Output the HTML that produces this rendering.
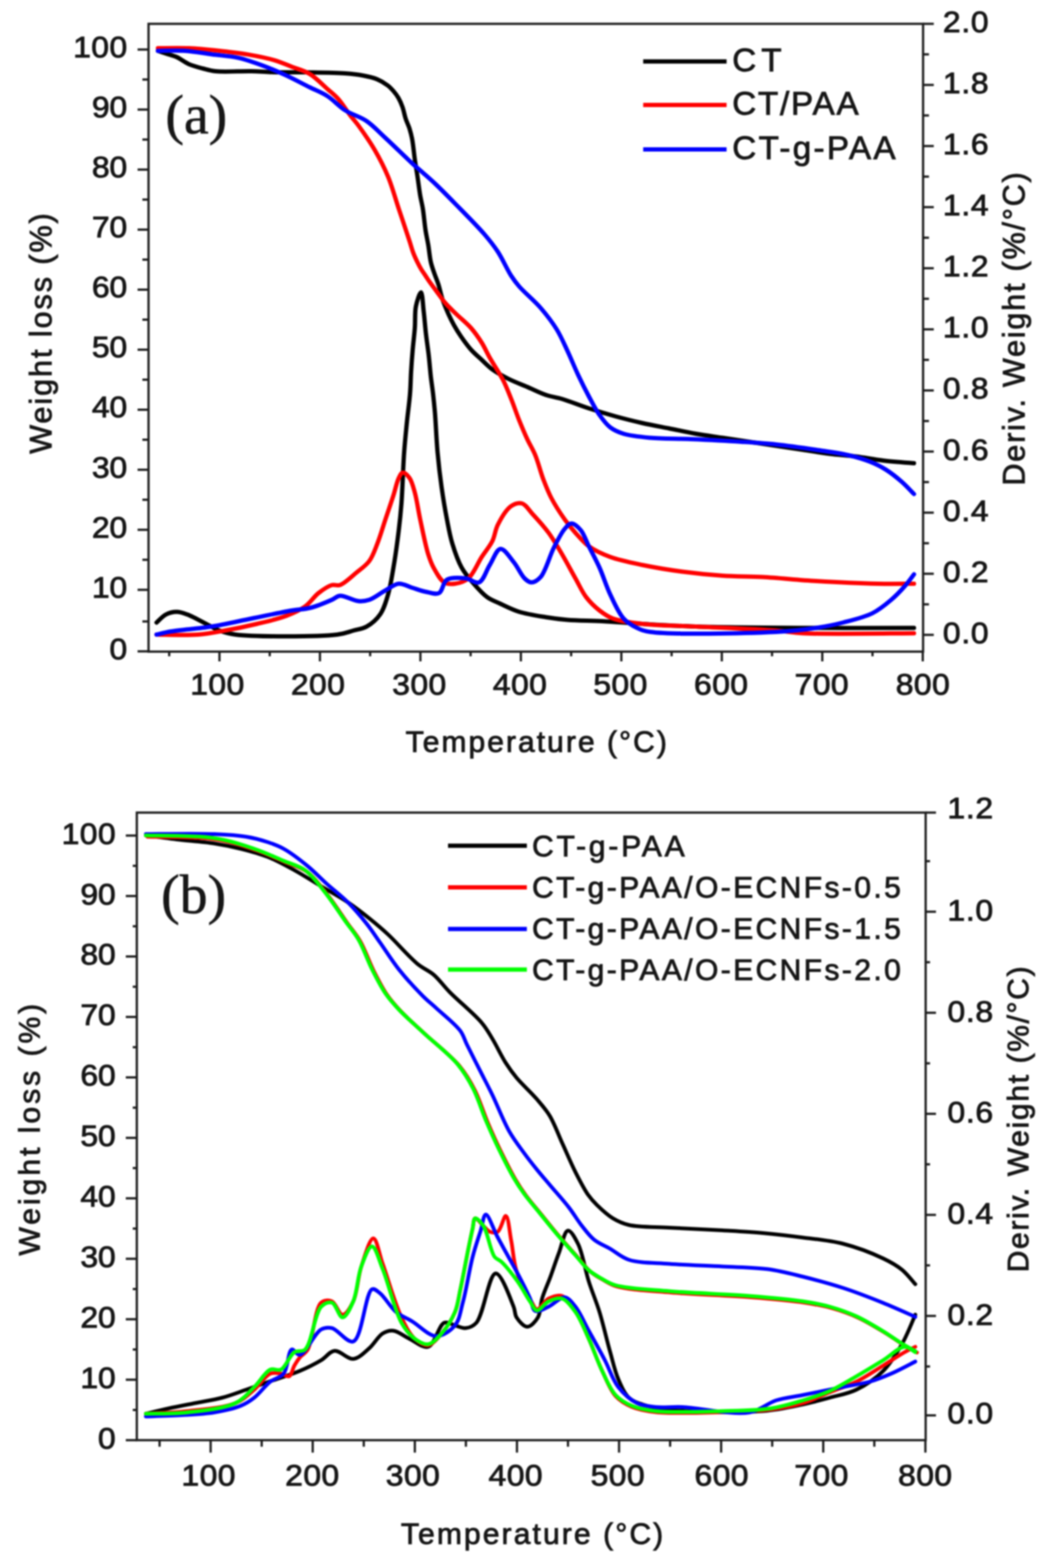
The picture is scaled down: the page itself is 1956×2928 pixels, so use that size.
<!DOCTYPE html>
<html><head><meta charset="utf-8"><title>TGA / DTG curves</title>
<style>
html,body{margin:0;padding:0;background:#fff;}
body{width:1956px;height:2928px;overflow:hidden;}
svg{display:block;filter:blur(1.5px);}
</style></head>
<body>
<svg width="1956" height="2928" viewBox="0 0 1956 2928">
<rect width="1956" height="2928" fill="#fff"/>
<g>
<path d="M295.0,94.9 C297.5,95.7 304.6,98.2 310.0,100.0 C316.2,102.1 323.3,103.5 330.0,106.5 C337.6,109.9 344.8,116.2 353.0,119.8 C361.3,123.4 370.9,125.8 379.5,128.0 C387.4,130.1 392.9,132.0 402.7,133.0 C419.2,134.8 451.1,132.5 470.0,133.0 C483.7,133.3 491.9,134.3 505.5,134.7 C523.8,135.2 547.7,134.7 570.0,135.0 C594.1,135.4 625.1,135.5 645.0,137.0 C658.3,138.0 667.7,139.0 678.0,141.0 C687.4,142.8 696.5,144.7 704.5,148.0 C711.8,151.0 719.0,155.5 724.4,159.6 C728.7,162.9 731.7,166.2 735.0,170.0 C738.4,173.9 741.6,178.1 744.3,182.8 C747.3,188.0 749.8,193.8 752.0,200.0 C754.4,206.8 755.7,215.1 758.0,222.0 C760.1,228.4 763.0,233.8 765.0,240.0 C767.0,246.4 768.5,252.2 770.0,260.0 C772.0,270.6 773.3,285.9 775.0,298.0 C776.6,309.1 778.4,319.1 780.0,330.0 C781.7,341.4 783.2,354.3 785.0,365.0 C786.6,374.1 788.5,380.7 790.0,390.0 C791.9,401.7 793.1,418.0 795.0,430.0 C796.5,439.9 798.4,447.5 800.0,457.0 C801.8,467.4 802.7,480.2 805.0,490.0 C806.9,498.2 809.6,505.0 812.0,512.0 C814.3,518.6 816.7,523.9 819.0,531.0 C821.8,539.6 823.8,550.6 827.0,560.0 C830.2,569.3 834.3,578.7 838.0,587.0 C841.3,594.2 844.3,600.3 848.0,607.0 C851.9,614.0 856.1,620.8 861.0,628.0 C866.6,636.1 873.3,645.5 880.0,653.0 C886.3,660.0 893.3,665.8 900.0,672.0 C906.6,678.1 912.3,684.4 920.0,690.0 C928.7,696.4 939.4,702.2 950.0,707.5 C961.1,713.1 973.3,717.5 985.0,722.5 C996.7,727.5 1008.6,733.7 1020.0,737.5 C1030.2,741.0 1038.8,741.7 1050.0,745.0 C1064.6,749.4 1083.3,757.1 1100.0,762.5 C1116.6,767.9 1133.3,772.9 1150.0,777.5 C1166.6,782.1 1183.3,786.2 1200.0,790.0 C1216.6,793.7 1233.3,796.7 1250.0,800.0 C1266.7,803.3 1283.3,807.1 1300.0,810.0 C1316.6,812.9 1333.3,815.0 1350.0,817.5 C1366.7,820.0 1383.3,822.5 1400.0,825.0 C1416.7,827.5 1433.3,830.0 1450.0,832.5 C1466.7,835.0 1483.3,837.5 1500.0,840.0 C1516.7,842.5 1533.3,845.4 1550.0,847.5 C1566.6,849.6 1583.4,850.4 1600.0,852.5 C1616.7,854.6 1632.7,858.0 1650.0,860.0 C1668.5,862.2 1697.9,864.2 1707.5,865.0" fill="none" stroke="#000" stroke-width="8.0" stroke-linejoin="round" stroke-linecap="round"/>
<path d="M292.5,1162.5 C295.4,1160.0 303.5,1150.8 310.0,1147.5 C316.1,1144.3 323.3,1142.5 330.0,1142.5 C336.7,1142.5 342.4,1144.7 350.0,1147.5 C361.2,1151.7 379.0,1162.0 390.0,1167.5 C397.8,1171.4 402.5,1174.7 410.0,1177.5 C418.8,1180.8 425.5,1183.2 440.0,1185.0 C475.9,1189.4 594.1,1189.4 630.0,1185.0 C644.5,1183.2 650.5,1180.1 660.0,1177.5 C668.7,1175.1 677.1,1174.4 685.0,1170.0 C693.9,1165.0 703.5,1156.9 710.0,1147.5 C717.2,1137.2 721.0,1123.6 725.0,1110.0 C729.5,1094.7 731.9,1078.1 735.0,1060.0 C738.7,1038.7 742.4,1011.4 745.0,990.0 C747.2,972.0 748.5,959.3 750.0,940.0 C752.0,913.4 753.0,872.4 755.0,845.0 C756.5,824.2 758.2,808.3 760.0,790.0 C761.8,771.7 764.7,752.0 766.0,735.0 C767.2,720.4 767.2,707.7 768.0,694.0 C768.8,680.3 769.8,666.7 771.0,653.0 C772.2,639.3 774.0,625.6 775.0,612.0 C776.0,598.6 774.6,583.7 777.0,572.0 C779.0,562.2 784.1,545.7 786.5,546.0 C789.2,546.3 790.1,569.6 791.6,582.0 C793.2,595.2 794.1,609.3 795.7,623.0 C797.3,636.7 799.4,650.4 801.0,664.0 C802.5,677.5 803.6,692.0 805.0,704.5 C806.3,715.4 807.8,724.5 809.0,735.0 C810.3,746.3 811.3,756.1 812.5,770.0 C814.2,790.3 815.3,820.9 817.5,845.0 C819.5,867.5 822.0,888.8 825.0,910.0 C827.9,930.4 831.4,951.5 835.0,970.0 C838.1,986.1 840.5,1000.2 845.0,1015.0 C849.6,1030.2 855.2,1046.9 862.5,1060.0 C868.9,1071.5 877.0,1080.7 885.0,1090.0 C892.8,1099.0 901.1,1108.6 910.0,1115.0 C917.9,1120.7 925.9,1123.3 935.0,1127.5 C945.6,1132.4 957.1,1138.5 970.0,1142.5 C985.0,1147.1 1004.2,1149.9 1020.0,1152.5 C1034.0,1154.8 1045.0,1156.3 1060.0,1157.5 C1079.0,1159.1 1102.6,1158.8 1125.0,1160.0 C1149.1,1161.3 1173.2,1163.4 1200.0,1165.0 C1230.9,1166.8 1260.9,1168.8 1300.0,1170.0 C1355.2,1171.7 1432.7,1172.1 1500.0,1172.5 C1568.5,1172.9 1672.9,1172.5 1707.5,1172.5" fill="none" stroke="#000" stroke-width="8.0" stroke-linejoin="round" stroke-linecap="round"/>
<path d="M295.0,90.0 C304.7,90.0 333.5,89.2 353.0,90.0 C372.8,90.9 393.7,93.2 412.7,95.2 C430.0,97.1 445.9,98.8 462.4,101.6 C479.1,104.5 497.4,108.0 512.2,112.3 C524.5,115.9 534.3,120.4 545.3,124.7 C556.4,129.0 567.9,131.6 578.5,138.0 C590.2,145.0 602.1,157.7 611.7,166.2 C619.2,172.9 625.1,177.1 631.6,184.4 C639.5,193.2 647.8,206.9 654.8,216.0 C660.3,223.2 664.3,227.2 670.0,235.0 C678.5,246.7 690.9,264.3 700.0,280.0 C709.3,296.0 717.7,312.3 725.0,330.0 C732.8,348.8 738.3,370.0 745.0,390.0 C751.7,410.0 760.1,434.9 765.0,450.0 C768.0,459.1 769.4,465.1 772.0,472.0 C774.4,478.4 777.3,484.5 780.0,490.0 C782.3,494.7 784.5,498.8 787.0,503.0 C789.5,507.1 792.4,511.1 795.0,515.0 C797.4,518.6 799.2,521.5 802.0,525.6 C806.0,531.3 811.9,539.2 817.0,546.0 C822.1,552.8 826.7,559.9 832.5,566.5 C838.6,573.6 845.6,579.8 853.0,587.0 C861.3,595.1 872.0,603.4 880.0,612.5 C887.6,621.2 894.1,630.6 900.0,640.0 C905.7,649.1 909.2,657.8 915.0,668.0 C922.2,680.7 933.1,696.4 940.0,710.0 C946.1,722.0 950.1,732.9 955.0,745.0 C960.2,757.8 964.8,772.2 970.0,785.0 C974.9,797.1 979.8,808.9 985.0,820.0 C989.9,830.5 995.4,838.8 1000.0,850.0 C1005.5,863.3 1009.7,881.0 1015.0,895.0 C1019.8,907.5 1023.8,918.2 1030.0,930.0 C1036.9,943.1 1046.8,958.4 1055.0,970.0 C1061.8,979.5 1067.7,986.9 1075.0,995.0 C1082.7,1003.6 1090.0,1012.8 1100.0,1020.0 C1111.2,1028.1 1125.0,1034.4 1140.0,1040.0 C1157.7,1046.5 1178.8,1050.6 1200.0,1055.0 C1223.5,1059.9 1249.9,1064.2 1275.0,1067.5 C1299.9,1070.8 1325.0,1073.3 1350.0,1075.0 C1375.0,1076.7 1398.2,1076.1 1425.0,1077.5 C1456.0,1079.2 1490.5,1083.0 1525.0,1085.0 C1562.0,1087.2 1606.7,1089.3 1640.0,1090.0 C1665.5,1090.6 1696.3,1090.0 1707.5,1090.0" fill="none" stroke="#ff0000" stroke-width="8.0" stroke-linejoin="round" stroke-linecap="round"/>
<path d="M292.5,1185.0 C305.4,1185.0 347.0,1186.7 370.0,1185.0 C388.5,1183.6 402.6,1180.6 420.0,1177.5 C439.1,1174.1 460.5,1169.7 480.0,1165.0 C498.8,1160.5 519.0,1156.1 535.0,1150.0 C548.3,1144.9 559.8,1139.8 570.0,1132.5 C579.7,1125.5 586.2,1114.4 595.0,1107.5 C603.0,1101.3 612.5,1094.6 620.0,1092.5 C625.4,1091.0 629.5,1094.3 635.0,1092.5 C643.7,1089.6 655.6,1077.7 665.0,1070.0 C673.9,1062.7 683.4,1056.5 690.0,1047.5 C696.8,1038.2 700.3,1026.9 705.0,1015.0 C710.4,1001.4 715.0,985.0 720.0,970.0 C725.0,955.0 730.6,938.8 735.0,925.0 C738.7,913.3 741.2,900.0 745.0,892.5 C747.3,887.9 749.4,882.9 752.5,882.5 C756.0,882.1 761.6,887.7 765.0,892.5 C769.7,899.0 772.0,909.3 775.0,920.0 C778.9,934.1 781.2,952.3 785.0,970.0 C789.4,990.3 794.8,1018.6 800.0,1035.0 C803.3,1045.4 805.4,1051.7 810.0,1060.0 C815.1,1069.3 822.2,1082.9 830.0,1087.5 C836.0,1091.0 843.1,1090.9 850.0,1090.0 C858.0,1089.0 867.5,1086.2 875.0,1080.0 C884.9,1071.7 892.0,1052.3 900.0,1040.0 C907.0,1029.2 914.9,1020.4 920.0,1010.0 C924.7,1000.3 924.9,990.0 930.0,980.0 C935.9,968.3 945.9,951.2 955.0,945.0 C961.3,940.7 968.8,938.3 975.0,940.0 C982.3,942.0 987.8,952.2 995.0,960.0 C1004.2,969.9 1015.9,982.6 1025.0,995.0 C1034.2,1007.6 1041.8,1021.2 1050.0,1035.0 C1058.5,1049.5 1067.1,1066.0 1075.0,1080.0 C1082.0,1092.4 1087.2,1104.8 1095.0,1115.0 C1102.3,1124.6 1111.2,1133.1 1120.0,1140.0 C1128.0,1146.2 1134.6,1151.1 1145.0,1155.0 C1159.4,1160.4 1178.9,1162.6 1200.0,1165.0 C1228.3,1168.3 1263.3,1168.2 1300.0,1170.0 C1344.9,1172.2 1413.4,1174.8 1450.0,1177.5 C1471.2,1179.1 1477.6,1181.4 1500.0,1182.5 C1545.5,1184.8 1672.9,1182.5 1707.5,1182.5" fill="none" stroke="#ff0000" stroke-width="8.0" stroke-linejoin="round" stroke-linecap="round"/>
<path d="M295.0,94.9 C303.6,94.9 329.4,93.8 346.3,94.9 C363.0,96.0 379.4,99.3 396.0,101.5 C412.6,103.7 429.6,104.5 445.8,108.1 C461.7,111.7 477.5,117.5 492.3,123.0 C506.2,128.1 518.3,133.4 532.0,139.7 C547.0,146.6 564.3,155.8 578.5,162.9 C590.5,168.9 601.0,172.6 611.7,179.5 C623.1,186.8 632.8,198.3 644.8,206.0 C657.1,213.9 672.2,217.5 684.6,225.9 C697.4,234.6 707.3,245.8 720.0,257.5 C735.3,271.6 757.0,293.1 770.0,305.0 C778.1,312.4 783.0,316.3 790.0,322.5 C797.9,329.5 806.1,336.5 815.0,345.0 C825.8,355.3 837.1,366.8 850.0,380.0 C866.4,396.7 890.6,420.7 905.0,437.5 C915.4,449.6 922.1,458.0 930.0,470.0 C938.9,483.5 947.3,503.2 955.0,515.0 C960.3,523.2 963.5,527.5 970.0,535.0 C979.8,546.3 998.1,561.2 1010.0,575.0 C1021.2,587.9 1031.5,601.3 1040.0,615.0 C1048.0,628.0 1053.5,641.2 1060.0,655.0 C1066.8,669.5 1073.2,685.5 1080.0,700.0 C1086.5,713.8 1093.2,727.2 1100.0,740.0 C1106.5,752.1 1112.8,764.9 1120.0,775.0 C1126.3,783.8 1132.3,792.1 1140.0,798.0 C1147.4,803.6 1155.0,806.9 1165.0,810.0 C1178.6,814.2 1196.6,815.8 1215.0,817.5 C1237.4,819.5 1263.5,818.9 1290.0,820.0 C1319.8,821.3 1356.3,823.1 1385.0,825.0 C1408.7,826.5 1427.6,827.6 1450.0,830.0 C1474.1,832.5 1501.4,836.5 1525.0,840.0 C1546.1,843.2 1567.1,845.8 1585.0,850.0 C1599.8,853.4 1612.8,857.2 1625.0,862.0 C1635.9,866.3 1645.3,870.9 1655.0,877.0 C1665.3,883.5 1676.0,892.1 1685.0,900.0 C1693.3,907.3 1703.7,918.8 1707.5,922.5" fill="none" stroke="#0000ff" stroke-width="8.0" stroke-linejoin="round" stroke-linecap="round"/>
<path d="M292.5,1185.0 C297.1,1184.0 308.5,1180.9 320.0,1179.0 C338.8,1175.8 370.1,1174.0 395.0,1170.0 C420.1,1166.0 445.0,1160.0 470.0,1155.0 C495.0,1150.0 524.7,1143.5 545.0,1140.0 C558.8,1137.6 568.1,1138.0 580.0,1135.0 C593.1,1131.7 610.0,1124.4 620.0,1120.0 C626.3,1117.3 628.8,1113.1 635.0,1112.5 C644.1,1111.7 659.9,1121.7 670.0,1122.5 C677.5,1123.1 682.9,1122.4 690.0,1120.0 C699.3,1116.9 710.4,1107.7 720.0,1102.5 C728.6,1097.8 736.5,1090.7 745.0,1090.0 C753.2,1089.3 761.7,1095.0 770.0,1097.5 C778.3,1100.0 786.6,1103.3 795.0,1105.0 C803.3,1106.6 813.4,1110.8 820.0,1107.5 C827.1,1104.0 827.3,1087.2 835.0,1082.5 C843.4,1077.3 859.4,1078.8 870.0,1080.0 C879.1,1081.0 887.9,1090.2 895.0,1087.5 C903.5,1084.3 908.2,1065.6 915.0,1055.0 C921.6,1044.7 927.5,1025.7 935.0,1025.0 C942.5,1024.3 952.5,1040.9 960.0,1050.0 C967.5,1059.2 973.4,1073.7 980.0,1080.0 C984.2,1084.0 988.0,1087.5 992.5,1087.5 C997.8,1087.6 1004.5,1083.5 1010.0,1077.5 C1019.5,1067.1 1026.7,1038.1 1035.0,1022.0 C1041.7,1008.9 1048.4,995.2 1055.0,987.5 C1059.2,982.6 1062.9,977.6 1067.5,977.5 C1072.8,977.4 1080.0,984.1 1085.0,990.0 C1091.3,997.3 1094.6,1009.3 1100.0,1020.0 C1106.2,1032.4 1113.6,1045.8 1120.0,1060.0 C1127.0,1075.6 1132.4,1094.0 1140.0,1110.0 C1147.4,1125.6 1155.3,1144.2 1165.0,1155.0 C1172.5,1163.3 1181.3,1168.3 1190.0,1172.5 C1198.0,1176.4 1202.2,1178.1 1215.0,1180.0 C1253.3,1185.6 1393.5,1182.8 1450.0,1180.0 C1482.0,1178.4 1502.6,1175.9 1525.0,1172.5 C1543.4,1169.7 1558.1,1166.9 1575.0,1162.5 C1593.0,1157.8 1614.3,1152.9 1630.0,1145.0 C1643.6,1138.2 1654.6,1128.8 1665.0,1120.0 C1674.4,1112.0 1682.6,1103.3 1690.0,1095.0 C1696.6,1087.5 1704.6,1076.2 1707.5,1072.5" fill="none" stroke="#0000ff" stroke-width="8.0" stroke-linejoin="round" stroke-linecap="round"/>
<path d="M272.5,1560.0 C282.1,1561.3 309.9,1565.1 330.0,1567.5 C352.2,1570.1 378.7,1571.7 400.0,1575.0 C418.1,1577.8 433.4,1580.9 450.0,1585.0 C466.8,1589.2 483.6,1593.5 500.0,1600.0 C517.0,1606.7 533.5,1615.9 550.0,1625.0 C566.8,1634.2 583.3,1645.0 600.0,1655.0 C616.7,1665.0 634.5,1674.6 650.0,1685.0 C664.3,1694.6 677.3,1704.8 690.0,1715.0 C702.2,1724.8 712.3,1733.2 725.0,1745.0 C741.5,1760.3 763.8,1786.7 780.0,1800.0 C791.0,1809.0 800.5,1811.9 810.0,1820.0 C820.6,1829.0 828.1,1840.3 840.0,1852.5 C856.4,1869.2 886.0,1893.2 900.0,1910.0 C909.3,1921.0 913.2,1928.8 920.0,1940.0 C928.1,1953.3 936.7,1972.1 945.0,1985.0 C951.7,1995.5 956.9,2002.8 965.0,2012.5 C975.3,2024.9 992.1,2039.8 1003.0,2052.6 C1012.2,2063.4 1019.6,2071.4 1027.0,2083.6 C1035.9,2098.4 1043.0,2118.5 1051.0,2136.0 C1059.0,2153.5 1066.7,2172.1 1075.0,2188.6 C1082.7,2203.8 1091.2,2220.6 1099.0,2231.6 C1104.5,2239.4 1108.5,2243.7 1115.0,2250.0 C1123.2,2258.0 1134.5,2268.6 1145.0,2275.0 C1154.6,2280.8 1162.4,2284.6 1175.0,2287.5 C1194.1,2292.0 1223.2,2290.9 1250.0,2292.5 C1280.9,2294.3 1319.1,2295.7 1350.0,2297.5 C1376.8,2299.1 1400.0,2300.3 1425.0,2302.5 C1450.0,2304.8 1475.0,2307.7 1500.0,2311.0 C1525.0,2314.3 1550.3,2316.1 1575.0,2322.5 C1600.3,2329.0 1630.1,2340.5 1650.0,2350.0 C1664.3,2356.8 1674.8,2362.7 1685.0,2371.0 C1694.7,2378.9 1705.8,2393.5 1710.0,2398.0" fill="none" stroke="#000" stroke-width="7.0" stroke-linejoin="round" stroke-linecap="round"/>
<path d="M272.5,2640.0 C279.6,2638.3 300.2,2633.2 315.0,2630.0 C331.0,2626.5 348.3,2623.3 365.0,2620.0 C381.7,2616.7 398.9,2614.3 415.0,2610.0 C430.5,2605.9 444.6,2600.3 460.0,2595.0 C476.2,2589.4 493.3,2583.3 510.0,2577.5 C526.7,2571.7 544.5,2566.6 560.0,2560.0 C574.3,2554.0 588.4,2546.9 600.0,2540.0 C609.5,2534.3 615.7,2523.5 625.0,2522.5 C635.4,2521.4 649.0,2538.5 660.0,2537.5 C670.7,2536.5 680.9,2525.3 690.0,2517.5 C699.2,2509.5 706.3,2495.2 715.0,2490.0 C721.5,2486.1 727.8,2484.2 735.0,2485.0 C744.2,2486.0 754.5,2495.1 765.0,2500.0 C776.1,2505.2 789.8,2518.0 800.0,2515.0 C812.1,2511.4 819.5,2474.1 830.0,2470.0 C836.5,2467.5 843.3,2473.3 850.0,2475.0 C856.7,2476.7 863.5,2480.7 870.0,2480.0 C876.8,2479.3 883.6,2477.0 890.0,2470.0 C903.4,2455.4 913.3,2378.8 926.0,2378.0 C936.7,2377.3 953.4,2424.8 959.5,2440.0 C962.8,2448.3 961.3,2454.0 965.0,2460.0 C969.2,2466.7 978.3,2477.5 985.0,2477.5 C991.7,2477.5 1000.4,2467.8 1005.0,2460.0 C1010.5,2450.8 1009.3,2436.1 1013.0,2424.0 C1016.9,2411.1 1023.0,2398.5 1028.0,2385.0 C1033.3,2370.6 1038.4,2354.7 1044.0,2340.0 C1049.4,2325.7 1054.3,2298.9 1061.0,2298.0 C1066.6,2297.3 1074.4,2311.9 1080.0,2323.0 C1088.5,2339.9 1093.0,2371.0 1100.0,2393.0 C1106.4,2413.1 1113.7,2429.6 1120.0,2450.0 C1127.1,2473.2 1133.6,2502.6 1140.0,2525.0 C1145.2,2543.4 1148.6,2560.1 1155.0,2575.0 C1160.6,2588.1 1166.5,2602.0 1175.0,2610.0 C1182.1,2616.7 1190.0,2619.1 1200.0,2622.5 C1213.6,2627.2 1228.1,2630.2 1250.0,2632.5 C1290.5,2636.8 1379.0,2638.5 1425.0,2635.0 C1455.3,2632.7 1477.6,2627.2 1500.0,2622.5 C1518.4,2618.7 1533.4,2614.6 1550.0,2610.0 C1566.7,2605.4 1583.9,2602.8 1600.0,2595.0 C1617.4,2586.6 1635.8,2574.2 1650.0,2560.0 C1664.2,2545.8 1675.0,2527.5 1685.0,2510.0 C1695.0,2492.5 1705.8,2464.2 1710.0,2455.0" fill="none" stroke="#000" stroke-width="7.0" stroke-linejoin="round" stroke-linecap="round"/>
<path d="M275.5,1562.5 C296.7,1563.3 366.4,1562.0 403.0,1567.5 C431.6,1571.8 455.2,1579.8 478.0,1587.5 C498.0,1594.2 516.2,1602.9 533.0,1610.0 C547.4,1616.1 560.6,1618.5 573.0,1627.5 C587.6,1638.1 600.5,1656.7 613.0,1672.5 C625.5,1688.4 637.3,1707.3 648.0,1722.5 C657.0,1735.2 665.3,1744.1 673.0,1757.5 C682.2,1773.4 689.3,1795.3 698.0,1812.5 C706.0,1828.4 714.0,1844.4 723.0,1857.5 C730.8,1868.9 738.1,1876.9 748.0,1887.5 C760.5,1900.8 776.6,1914.7 793.0,1930.0 C812.6,1948.3 841.5,1970.3 858.0,1990.0 C870.8,2005.4 878.5,2018.8 887.0,2035.5 C896.3,2053.7 902.8,2076.2 911.0,2095.5 C918.8,2113.8 926.4,2130.9 935.0,2148.5 C943.8,2166.5 954.2,2187.5 963.0,2202.5 C969.6,2213.9 974.7,2221.5 982.0,2231.5 C990.4,2243.1 1001.2,2255.4 1011.0,2267.5 C1021.1,2280.0 1031.2,2292.7 1042.0,2305.5 C1053.4,2319.0 1067.1,2334.2 1078.0,2346.5 C1087.1,2356.7 1094.3,2367.0 1103.0,2374.5 C1110.4,2380.9 1117.9,2384.9 1126.0,2389.5 C1134.5,2394.3 1140.8,2399.0 1153.0,2402.5 C1175.4,2408.9 1216.3,2410.4 1253.0,2413.5 C1297.9,2417.3 1358.1,2418.9 1403.0,2422.5 C1439.7,2425.4 1475.5,2428.4 1503.0,2432.5 C1522.6,2435.4 1536.5,2437.9 1553.0,2442.5 C1569.8,2447.2 1586.6,2453.0 1603.0,2460.5 C1620.0,2468.3 1638.0,2479.4 1653.0,2488.5 C1665.9,2496.3 1677.2,2504.9 1688.0,2511.5 C1696.9,2516.9 1708.8,2523.2 1713.0,2525.5" fill="none" stroke="#ff0000" stroke-width="7.0" stroke-linejoin="round" stroke-linecap="round"/>
<path d="M272.5,2640.0 C285.4,2639.2 323.3,2638.1 350.0,2635.0 C379.0,2631.7 417.7,2629.2 440.0,2620.0 C455.3,2613.7 464.1,2604.2 475.0,2595.0 C485.8,2585.9 495.2,2569.1 505.0,2565.0 C511.7,2562.2 518.9,2564.0 525.0,2565.0 C530.4,2565.9 536.0,2571.7 540.0,2570.0 C544.8,2568.0 546.5,2556.1 550.0,2550.0 C553.2,2544.5 556.1,2539.8 560.0,2535.0 C564.3,2529.8 570.3,2528.0 575.0,2520.0 C584.7,2503.5 587.7,2443.0 600.0,2432.5 C605.8,2427.5 613.9,2427.5 620.0,2430.0 C627.6,2433.1 633.3,2455.0 640.0,2455.0 C646.7,2455.0 654.6,2441.1 660.0,2430.0 C667.7,2414.0 668.4,2385.2 675.0,2365.0 C681.1,2346.3 690.7,2312.3 697.5,2312.5 C703.9,2312.7 708.3,2341.2 715.0,2360.0 C724.8,2387.2 737.8,2434.7 750.0,2460.0 C758.1,2476.9 765.2,2491.3 775.0,2500.0 C782.5,2506.7 792.0,2513.1 800.0,2512.0 C808.8,2510.8 817.3,2499.1 825.0,2490.0 C834.2,2479.2 844.1,2464.0 850.0,2450.0 C855.6,2436.6 856.5,2424.1 860.0,2408.0 C864.7,2386.4 870.7,2353.0 875.0,2332.0 C878.0,2317.1 880.6,2304.5 883.0,2294.0 C884.7,2286.6 884.4,2276.0 887.6,2275.0 C890.9,2274.0 898.2,2284.6 903.0,2289.0 C907.3,2292.9 910.4,2298.2 915.0,2300.0 C919.4,2301.7 925.7,2302.7 930.0,2300.0 C936.4,2296.1 941.0,2270.1 945.0,2270.6 C949.8,2271.2 951.9,2300.6 955.0,2316.5 C958.3,2333.6 959.4,2353.7 964.0,2370.0 C968.1,2384.5 974.4,2399.0 980.0,2410.0 C984.2,2418.3 988.9,2424.8 993.0,2431.0 C996.5,2436.2 998.7,2444.5 1003.0,2445.0 C1008.7,2445.6 1016.8,2429.1 1025.0,2425.0 C1032.6,2421.2 1042.3,2417.4 1050.0,2420.0 C1059.3,2423.1 1067.4,2436.6 1075.0,2448.0 C1084.4,2462.1 1091.9,2481.9 1100.0,2500.0 C1108.6,2519.2 1116.2,2541.4 1125.0,2560.0 C1133.0,2576.8 1139.6,2595.5 1150.0,2607.0 C1158.6,2616.5 1168.5,2622.1 1180.0,2627.0 C1193.0,2632.6 1206.1,2634.9 1225.0,2637.0 C1256.1,2640.4 1311.8,2638.1 1350.0,2637.0 C1382.5,2636.1 1413.1,2635.4 1440.0,2632.0 C1462.1,2629.2 1481.2,2625.6 1500.0,2620.0 C1517.7,2614.7 1533.3,2606.7 1550.0,2600.0 C1566.7,2593.3 1583.7,2588.1 1600.0,2580.0 C1617.0,2571.6 1634.3,2559.6 1650.0,2550.0 C1664.1,2541.4 1678.8,2531.3 1690.0,2525.0 C1697.7,2520.7 1706.7,2516.7 1710.0,2515.0" fill="none" stroke="#ff0000" stroke-width="7.0" stroke-linejoin="round" stroke-linecap="round"/>
<path d="M272.5,1557.5 C293.8,1557.5 365.4,1556.1 400.0,1557.5 C423.7,1558.5 442.1,1559.5 460.0,1562.5 C474.8,1564.9 487.8,1568.4 500.0,1572.5 C510.9,1576.1 519.4,1579.0 530.0,1585.0 C543.9,1592.8 561.3,1606.2 575.0,1617.5 C587.7,1628.0 597.9,1639.1 610.0,1650.0 C622.8,1661.5 637.5,1672.5 650.0,1685.0 C662.5,1697.5 674.6,1711.9 685.0,1725.0 C694.4,1736.8 701.0,1747.3 710.0,1760.0 C720.7,1775.2 732.1,1793.7 745.0,1810.0 C758.6,1827.1 776.9,1846.9 790.0,1860.0 C799.3,1869.3 805.5,1873.8 815.0,1882.5 C827.9,1894.4 850.4,1911.9 860.0,1925.0 C866.4,1933.8 867.3,1940.4 872.0,1950.0 C878.6,1963.4 888.0,1981.8 896.0,1997.7 C904.0,2013.5 911.7,2027.8 920.0,2045.0 C929.8,2065.3 940.1,2092.8 951.0,2112.0 C959.9,2127.8 969.8,2140.4 979.0,2153.0 C987.1,2164.2 994.9,2174.0 1003.0,2184.0 C1010.9,2193.8 1018.2,2202.1 1027.0,2212.5 C1037.8,2225.3 1052.5,2241.4 1063.0,2255.0 C1072.1,2266.8 1078.8,2278.6 1087.0,2289.0 C1094.5,2298.5 1101.1,2307.8 1110.0,2315.0 C1118.8,2322.1 1129.6,2326.0 1140.0,2332.0 C1151.2,2338.5 1160.5,2347.8 1175.0,2352.5 C1194.8,2358.9 1223.2,2358.0 1250.0,2360.0 C1280.9,2362.3 1318.0,2363.3 1350.0,2365.0 C1379.5,2366.6 1408.7,2366.4 1435.0,2370.0 C1458.2,2373.2 1477.6,2378.5 1500.0,2384.0 C1524.2,2390.0 1550.2,2396.9 1575.0,2405.0 C1600.2,2413.2 1626.5,2423.5 1650.0,2433.0 C1671.2,2441.6 1700.0,2454.7 1710.0,2459.0" fill="none" stroke="#0000ff" stroke-width="7.0" stroke-linejoin="round" stroke-linecap="round"/>
<path d="M272.5,2645.0 C283.8,2644.6 318.2,2643.8 340.0,2642.5 C360.6,2641.3 381.0,2640.6 400.0,2637.5 C417.5,2634.6 436.5,2630.6 450.0,2625.0 C460.1,2620.8 466.7,2616.5 475.0,2610.0 C485.0,2602.2 495.0,2587.8 505.0,2580.0 C513.3,2573.5 523.6,2573.0 530.0,2565.0 C538.2,2554.8 538.1,2522.4 545.0,2520.0 C549.3,2518.5 554.2,2530.8 560.0,2530.0 C570.7,2528.5 587.7,2489.2 600.0,2482.5 C607.0,2478.7 612.5,2478.4 620.0,2480.0 C631.4,2482.5 648.9,2508.9 660.0,2505.0 C676.5,2499.3 682.8,2412.4 695.0,2407.5 C699.9,2405.5 704.6,2410.8 710.0,2415.0 C718.9,2422.0 729.2,2441.0 740.0,2450.0 C749.4,2457.8 759.0,2460.9 770.0,2467.5 C783.5,2475.6 800.9,2494.8 815.0,2495.0 C827.3,2495.2 841.7,2485.0 850.0,2475.0 C858.9,2464.2 860.2,2448.2 865.0,2431.0 C871.5,2407.6 876.7,2371.1 883.0,2347.0 C887.8,2328.4 893.5,2312.3 898.0,2298.0 C901.5,2286.8 903.1,2268.4 907.5,2268.0 C912.8,2267.5 922.2,2296.3 929.0,2309.0 C934.9,2320.1 940.0,2329.1 946.0,2340.0 C952.6,2352.0 960.0,2364.7 967.0,2378.0 C974.6,2392.5 984.1,2411.1 990.0,2424.0 C994.2,2433.2 994.2,2445.3 1000.0,2448.0 C1005.8,2450.7 1016.5,2443.8 1025.0,2440.0 C1034.8,2435.6 1046.3,2421.7 1055.0,2422.5 C1062.6,2423.2 1068.6,2432.1 1075.0,2440.0 C1083.9,2451.0 1091.3,2469.2 1100.0,2485.0 C1109.6,2502.4 1120.6,2522.0 1130.0,2540.0 C1138.9,2557.0 1144.3,2576.3 1155.0,2590.0 C1164.7,2602.4 1177.5,2613.8 1190.0,2620.0 C1201.0,2625.5 1212.2,2626.1 1225.0,2627.5 C1240.1,2629.1 1254.6,2626.7 1275.0,2627.5 C1307.3,2628.8 1368.2,2643.0 1400.0,2637.5 C1421.0,2633.9 1433.0,2620.4 1450.0,2615.0 C1466.4,2609.8 1481.6,2608.7 1500.0,2605.0 C1522.5,2600.5 1552.5,2594.5 1575.0,2590.0 C1593.4,2586.3 1609.4,2584.4 1625.0,2580.0 C1639.3,2575.9 1651.4,2570.9 1665.0,2565.0 C1679.7,2558.6 1702.5,2546.2 1710.0,2542.5" fill="none" stroke="#0000ff" stroke-width="7.0" stroke-linejoin="round" stroke-linecap="round"/>
<path d="M272.5,1560.0 C293.7,1560.8 363.4,1559.5 400.0,1565.0 C428.6,1569.3 452.2,1577.3 475.0,1585.0 C495.0,1591.7 513.2,1600.4 530.0,1607.5 C544.4,1613.6 557.6,1616.0 570.0,1625.0 C584.6,1635.6 597.5,1654.2 610.0,1670.0 C622.5,1685.9 634.3,1704.8 645.0,1720.0 C654.0,1732.7 662.3,1741.6 670.0,1755.0 C679.2,1770.9 686.3,1792.8 695.0,1810.0 C703.0,1825.9 711.0,1841.9 720.0,1855.0 C727.8,1866.4 735.1,1874.4 745.0,1885.0 C757.5,1898.3 773.6,1912.2 790.0,1927.5 C809.6,1945.8 838.5,1967.8 855.0,1987.5 C867.8,2002.9 875.5,2016.3 884.0,2033.0 C893.3,2051.2 899.8,2073.7 908.0,2093.0 C915.8,2111.3 923.4,2128.4 932.0,2146.0 C940.8,2164.0 951.2,2185.0 960.0,2200.0 C966.6,2211.4 971.7,2219.0 979.0,2229.0 C987.4,2240.6 998.2,2252.9 1008.0,2265.0 C1018.1,2277.5 1028.2,2290.2 1039.0,2303.0 C1050.4,2316.5 1064.1,2331.7 1075.0,2344.0 C1084.1,2354.2 1091.3,2364.5 1100.0,2372.0 C1107.4,2378.4 1114.9,2382.4 1123.0,2387.0 C1131.5,2391.8 1137.8,2396.5 1150.0,2400.0 C1172.4,2406.4 1213.3,2407.9 1250.0,2411.0 C1294.9,2414.8 1355.1,2416.4 1400.0,2420.0 C1436.7,2422.9 1472.5,2425.9 1500.0,2430.0 C1519.6,2432.9 1533.5,2435.4 1550.0,2440.0 C1566.8,2444.7 1583.6,2450.5 1600.0,2458.0 C1617.0,2465.8 1635.0,2476.9 1650.0,2486.0 C1662.9,2493.8 1674.2,2502.4 1685.0,2509.0 C1693.9,2514.4 1705.8,2520.7 1710.0,2523.0" fill="none" stroke="#00ff00" stroke-width="7.0" stroke-linejoin="round" stroke-linecap="round"/>
<path d="M272.5,2640.0 C285.4,2639.6 323.3,2640.5 350.0,2637.5 C379.0,2634.2 417.9,2630.7 440.0,2620.0 C455.7,2612.4 464.1,2600.5 475.0,2590.0 C485.7,2579.7 495.1,2561.9 505.0,2557.5 C511.7,2554.6 518.7,2560.6 525.0,2557.5 C534.0,2553.0 541.0,2530.9 550.0,2525.0 C556.4,2520.8 563.9,2525.4 570.0,2520.0 C582.4,2508.9 587.8,2452.2 600.0,2440.0 C606.1,2433.9 613.9,2430.7 620.0,2432.5 C627.6,2434.8 633.4,2460.1 640.0,2460.0 C646.8,2459.9 654.6,2442.5 660.0,2430.0 C667.3,2413.0 668.1,2383.3 675.0,2365.0 C680.5,2350.4 688.5,2327.3 695.0,2327.5 C701.8,2327.7 707.9,2352.6 715.0,2370.0 C725.7,2396.1 737.1,2447.2 750.0,2470.0 C757.9,2483.9 765.7,2493.3 775.0,2500.0 C782.7,2505.6 792.0,2511.2 800.0,2510.0 C808.7,2508.7 817.3,2498.6 825.0,2490.0 C834.3,2479.5 844.1,2464.0 850.0,2450.0 C855.6,2436.6 856.5,2424.1 860.0,2408.0 C864.7,2386.4 870.7,2353.0 875.0,2332.0 C878.0,2317.1 880.6,2304.5 883.0,2294.0 C884.7,2286.6 884.4,2276.0 887.6,2275.0 C890.9,2274.0 898.3,2281.9 903.0,2289.0 C911.2,2301.2 916.1,2336.6 924.0,2347.0 C927.9,2352.2 931.8,2351.6 936.5,2356.0 C944.9,2363.8 957.9,2380.4 967.0,2393.0 C975.7,2405.1 983.2,2420.2 990.0,2430.0 C994.8,2436.9 997.7,2446.3 1003.0,2447.0 C1009.1,2447.8 1017.0,2433.7 1025.0,2430.0 C1032.7,2426.5 1042.2,2422.7 1050.0,2425.0 C1059.1,2427.8 1067.4,2439.5 1075.0,2450.0 C1084.5,2463.2 1092.0,2482.4 1100.0,2500.0 C1108.7,2518.9 1116.1,2541.7 1125.0,2560.0 C1132.9,2576.3 1139.7,2593.8 1150.0,2605.0 C1158.6,2614.3 1168.5,2620.1 1180.0,2625.0 C1193.0,2630.6 1206.1,2632.9 1225.0,2635.0 C1256.1,2638.4 1311.8,2636.1 1350.0,2635.0 C1382.5,2634.1 1413.2,2634.1 1440.0,2630.0 C1462.2,2626.6 1481.0,2620.7 1500.0,2615.0 C1517.6,2609.7 1533.6,2604.8 1550.0,2597.5 C1567.0,2589.9 1583.4,2579.5 1600.0,2570.0 C1616.8,2560.4 1634.3,2549.6 1650.0,2540.0 C1664.1,2531.4 1678.8,2515.5 1690.0,2515.0 C1697.7,2514.6 1706.7,2523.3 1710.0,2525.0" fill="none" stroke="#00ff00" stroke-width="7.0" stroke-linejoin="round" stroke-linecap="round"/>
<rect x="277.5" y="44.5" width="1447.0" height="1172.3" fill="none" stroke="#1c1c1c" stroke-width="4.2"/>
<line x1="257.0" y1="1216.3" x2="277.5" y2="1216.3" stroke="#1c1c1c" stroke-width="4.2" stroke-linecap="butt"/>
<line x1="266.0" y1="1160.5" x2="277.5" y2="1160.5" stroke="#1c1c1c" stroke-width="4.2" stroke-linecap="butt"/>
<line x1="257.0" y1="1101.4" x2="277.5" y2="1101.4" stroke="#1c1c1c" stroke-width="4.2" stroke-linecap="butt"/>
<line x1="266.0" y1="1045.3" x2="277.5" y2="1045.3" stroke="#1c1c1c" stroke-width="4.2" stroke-linecap="butt"/>
<line x1="257.0" y1="989.3" x2="277.5" y2="989.3" stroke="#1c1c1c" stroke-width="4.2" stroke-linecap="butt"/>
<line x1="266.0" y1="933.2" x2="277.5" y2="933.2" stroke="#1c1c1c" stroke-width="4.2" stroke-linecap="butt"/>
<line x1="257.0" y1="877.2" x2="277.5" y2="877.2" stroke="#1c1c1c" stroke-width="4.2" stroke-linecap="butt"/>
<line x1="266.0" y1="821.1" x2="277.5" y2="821.1" stroke="#1c1c1c" stroke-width="4.2" stroke-linecap="butt"/>
<line x1="257.0" y1="765.1" x2="277.5" y2="765.1" stroke="#1c1c1c" stroke-width="4.2" stroke-linecap="butt"/>
<line x1="266.0" y1="709.0" x2="277.5" y2="709.0" stroke="#1c1c1c" stroke-width="4.2" stroke-linecap="butt"/>
<line x1="257.0" y1="653.0" x2="277.5" y2="653.0" stroke="#1c1c1c" stroke-width="4.2" stroke-linecap="butt"/>
<line x1="266.0" y1="596.9" x2="277.5" y2="596.9" stroke="#1c1c1c" stroke-width="4.2" stroke-linecap="butt"/>
<line x1="257.0" y1="540.9" x2="277.5" y2="540.9" stroke="#1c1c1c" stroke-width="4.2" stroke-linecap="butt"/>
<line x1="266.0" y1="484.8" x2="277.5" y2="484.8" stroke="#1c1c1c" stroke-width="4.2" stroke-linecap="butt"/>
<line x1="257.0" y1="428.8" x2="277.5" y2="428.8" stroke="#1c1c1c" stroke-width="4.2" stroke-linecap="butt"/>
<line x1="266.0" y1="372.7" x2="277.5" y2="372.7" stroke="#1c1c1c" stroke-width="4.2" stroke-linecap="butt"/>
<line x1="257.0" y1="316.7" x2="277.5" y2="316.7" stroke="#1c1c1c" stroke-width="4.2" stroke-linecap="butt"/>
<line x1="266.0" y1="260.6" x2="277.5" y2="260.6" stroke="#1c1c1c" stroke-width="4.2" stroke-linecap="butt"/>
<line x1="257.0" y1="204.6" x2="277.5" y2="204.6" stroke="#1c1c1c" stroke-width="4.2" stroke-linecap="butt"/>
<line x1="266.0" y1="148.5" x2="277.5" y2="148.5" stroke="#1c1c1c" stroke-width="4.2" stroke-linecap="butt"/>
<line x1="257.0" y1="92.5" x2="277.5" y2="92.5" stroke="#1c1c1c" stroke-width="4.2" stroke-linecap="butt"/>
<line x1="1724.5" y1="1185.5" x2="1744.5" y2="1185.5" stroke="#1c1c1c" stroke-width="4.2" stroke-linecap="butt"/>
<line x1="1724.5" y1="1128.5" x2="1735.5" y2="1128.5" stroke="#1c1c1c" stroke-width="4.2" stroke-linecap="butt"/>
<line x1="1724.5" y1="1071.4" x2="1744.5" y2="1071.4" stroke="#1c1c1c" stroke-width="4.2" stroke-linecap="butt"/>
<line x1="1724.5" y1="1014.4" x2="1735.5" y2="1014.4" stroke="#1c1c1c" stroke-width="4.2" stroke-linecap="butt"/>
<line x1="1724.5" y1="957.3" x2="1744.5" y2="957.3" stroke="#1c1c1c" stroke-width="4.2" stroke-linecap="butt"/>
<line x1="1724.5" y1="900.2" x2="1735.5" y2="900.2" stroke="#1c1c1c" stroke-width="4.2" stroke-linecap="butt"/>
<line x1="1724.5" y1="843.2" x2="1744.5" y2="843.2" stroke="#1c1c1c" stroke-width="4.2" stroke-linecap="butt"/>
<line x1="1724.5" y1="786.2" x2="1735.5" y2="786.2" stroke="#1c1c1c" stroke-width="4.2" stroke-linecap="butt"/>
<line x1="1724.5" y1="729.1" x2="1744.5" y2="729.1" stroke="#1c1c1c" stroke-width="4.2" stroke-linecap="butt"/>
<line x1="1724.5" y1="672.0" x2="1735.5" y2="672.0" stroke="#1c1c1c" stroke-width="4.2" stroke-linecap="butt"/>
<line x1="1724.5" y1="615.0" x2="1744.5" y2="615.0" stroke="#1c1c1c" stroke-width="4.2" stroke-linecap="butt"/>
<line x1="1724.5" y1="557.9" x2="1735.5" y2="557.9" stroke="#1c1c1c" stroke-width="4.2" stroke-linecap="butt"/>
<line x1="1724.5" y1="500.9" x2="1744.5" y2="500.9" stroke="#1c1c1c" stroke-width="4.2" stroke-linecap="butt"/>
<line x1="1724.5" y1="443.9" x2="1735.5" y2="443.9" stroke="#1c1c1c" stroke-width="4.2" stroke-linecap="butt"/>
<line x1="1724.5" y1="386.8" x2="1744.5" y2="386.8" stroke="#1c1c1c" stroke-width="4.2" stroke-linecap="butt"/>
<line x1="1724.5" y1="329.8" x2="1735.5" y2="329.8" stroke="#1c1c1c" stroke-width="4.2" stroke-linecap="butt"/>
<line x1="1724.5" y1="272.7" x2="1744.5" y2="272.7" stroke="#1c1c1c" stroke-width="4.2" stroke-linecap="butt"/>
<line x1="1724.5" y1="215.6" x2="1735.5" y2="215.6" stroke="#1c1c1c" stroke-width="4.2" stroke-linecap="butt"/>
<line x1="1724.5" y1="158.6" x2="1744.5" y2="158.6" stroke="#1c1c1c" stroke-width="4.2" stroke-linecap="butt"/>
<line x1="1724.5" y1="101.5" x2="1735.5" y2="101.5" stroke="#1c1c1c" stroke-width="4.2" stroke-linecap="butt"/>
<line x1="1724.5" y1="44.5" x2="1744.5" y2="44.5" stroke="#1c1c1c" stroke-width="4.2" stroke-linecap="butt"/>
<line x1="316.1" y1="1216.8" x2="316.1" y2="1225.5" stroke="#1c1c1c" stroke-width="4.2" stroke-linecap="butt"/>
<line x1="410.0" y1="1216.8" x2="410.0" y2="1235.0" stroke="#1c1c1c" stroke-width="4.2" stroke-linecap="butt"/>
<line x1="503.9" y1="1216.8" x2="503.9" y2="1225.5" stroke="#1c1c1c" stroke-width="4.2" stroke-linecap="butt"/>
<line x1="597.7" y1="1216.8" x2="597.7" y2="1235.0" stroke="#1c1c1c" stroke-width="4.2" stroke-linecap="butt"/>
<line x1="691.5" y1="1216.8" x2="691.5" y2="1225.5" stroke="#1c1c1c" stroke-width="4.2" stroke-linecap="butt"/>
<line x1="785.4" y1="1216.8" x2="785.4" y2="1235.0" stroke="#1c1c1c" stroke-width="4.2" stroke-linecap="butt"/>
<line x1="879.2" y1="1216.8" x2="879.2" y2="1225.5" stroke="#1c1c1c" stroke-width="4.2" stroke-linecap="butt"/>
<line x1="973.1" y1="1216.8" x2="973.1" y2="1235.0" stroke="#1c1c1c" stroke-width="4.2" stroke-linecap="butt"/>
<line x1="1067.0" y1="1216.8" x2="1067.0" y2="1225.5" stroke="#1c1c1c" stroke-width="4.2" stroke-linecap="butt"/>
<line x1="1160.8" y1="1216.8" x2="1160.8" y2="1235.0" stroke="#1c1c1c" stroke-width="4.2" stroke-linecap="butt"/>
<line x1="1254.7" y1="1216.8" x2="1254.7" y2="1225.5" stroke="#1c1c1c" stroke-width="4.2" stroke-linecap="butt"/>
<line x1="1348.5" y1="1216.8" x2="1348.5" y2="1235.0" stroke="#1c1c1c" stroke-width="4.2" stroke-linecap="butt"/>
<line x1="1442.3" y1="1216.8" x2="1442.3" y2="1225.5" stroke="#1c1c1c" stroke-width="4.2" stroke-linecap="butt"/>
<line x1="1536.2" y1="1216.8" x2="1536.2" y2="1235.0" stroke="#1c1c1c" stroke-width="4.2" stroke-linecap="butt"/>
<line x1="1630.0" y1="1216.8" x2="1630.0" y2="1225.5" stroke="#1c1c1c" stroke-width="4.2" stroke-linecap="butt"/>
<line x1="1723.9" y1="1216.8" x2="1723.9" y2="1235.0" stroke="#1c1c1c" stroke-width="4.2" stroke-linecap="butt"/>
<rect x="255.6" y="1517.4" width="1473.7" height="1171.9" fill="none" stroke="#1c1c1c" stroke-width="4.2"/>
<line x1="235.0" y1="2689.3" x2="255.6" y2="2689.3" stroke="#1c1c1c" stroke-width="4.2" stroke-linecap="butt"/>
<line x1="248.0" y1="2632.9" x2="255.6" y2="2632.9" stroke="#1c1c1c" stroke-width="4.2" stroke-linecap="butt"/>
<line x1="235.0" y1="2576.4" x2="255.6" y2="2576.4" stroke="#1c1c1c" stroke-width="4.2" stroke-linecap="butt"/>
<line x1="248.0" y1="2520.0" x2="255.6" y2="2520.0" stroke="#1c1c1c" stroke-width="4.2" stroke-linecap="butt"/>
<line x1="235.0" y1="2463.5" x2="255.6" y2="2463.5" stroke="#1c1c1c" stroke-width="4.2" stroke-linecap="butt"/>
<line x1="248.0" y1="2407.1" x2="255.6" y2="2407.1" stroke="#1c1c1c" stroke-width="4.2" stroke-linecap="butt"/>
<line x1="235.0" y1="2350.6" x2="255.6" y2="2350.6" stroke="#1c1c1c" stroke-width="4.2" stroke-linecap="butt"/>
<line x1="248.0" y1="2294.2" x2="255.6" y2="2294.2" stroke="#1c1c1c" stroke-width="4.2" stroke-linecap="butt"/>
<line x1="235.0" y1="2237.7" x2="255.6" y2="2237.7" stroke="#1c1c1c" stroke-width="4.2" stroke-linecap="butt"/>
<line x1="248.0" y1="2181.2" x2="255.6" y2="2181.2" stroke="#1c1c1c" stroke-width="4.2" stroke-linecap="butt"/>
<line x1="235.0" y1="2124.8" x2="255.6" y2="2124.8" stroke="#1c1c1c" stroke-width="4.2" stroke-linecap="butt"/>
<line x1="248.0" y1="2068.4" x2="255.6" y2="2068.4" stroke="#1c1c1c" stroke-width="4.2" stroke-linecap="butt"/>
<line x1="235.0" y1="2011.9" x2="255.6" y2="2011.9" stroke="#1c1c1c" stroke-width="4.2" stroke-linecap="butt"/>
<line x1="248.0" y1="1955.5" x2="255.6" y2="1955.5" stroke="#1c1c1c" stroke-width="4.2" stroke-linecap="butt"/>
<line x1="235.0" y1="1899.0" x2="255.6" y2="1899.0" stroke="#1c1c1c" stroke-width="4.2" stroke-linecap="butt"/>
<line x1="248.0" y1="1842.6" x2="255.6" y2="1842.6" stroke="#1c1c1c" stroke-width="4.2" stroke-linecap="butt"/>
<line x1="235.0" y1="1786.1" x2="255.6" y2="1786.1" stroke="#1c1c1c" stroke-width="4.2" stroke-linecap="butt"/>
<line x1="248.0" y1="1729.7" x2="255.6" y2="1729.7" stroke="#1c1c1c" stroke-width="4.2" stroke-linecap="butt"/>
<line x1="235.0" y1="1673.2" x2="255.6" y2="1673.2" stroke="#1c1c1c" stroke-width="4.2" stroke-linecap="butt"/>
<line x1="248.0" y1="1616.8" x2="255.6" y2="1616.8" stroke="#1c1c1c" stroke-width="4.2" stroke-linecap="butt"/>
<line x1="235.0" y1="1560.3" x2="255.6" y2="1560.3" stroke="#1c1c1c" stroke-width="4.2" stroke-linecap="butt"/>
<line x1="1729.3" y1="2643.0" x2="1748.6" y2="2643.0" stroke="#1c1c1c" stroke-width="4.2" stroke-linecap="butt"/>
<line x1="1729.3" y1="2551.7" x2="1737.5" y2="2551.7" stroke="#1c1c1c" stroke-width="4.2" stroke-linecap="butt"/>
<line x1="1729.3" y1="2457.3" x2="1748.6" y2="2457.3" stroke="#1c1c1c" stroke-width="4.2" stroke-linecap="butt"/>
<line x1="1729.3" y1="2362.9" x2="1737.5" y2="2362.9" stroke="#1c1c1c" stroke-width="4.2" stroke-linecap="butt"/>
<line x1="1729.3" y1="2268.6" x2="1748.6" y2="2268.6" stroke="#1c1c1c" stroke-width="4.2" stroke-linecap="butt"/>
<line x1="1729.3" y1="2174.2" x2="1737.5" y2="2174.2" stroke="#1c1c1c" stroke-width="4.2" stroke-linecap="butt"/>
<line x1="1729.3" y1="2079.9" x2="1748.6" y2="2079.9" stroke="#1c1c1c" stroke-width="4.2" stroke-linecap="butt"/>
<line x1="1729.3" y1="1985.6" x2="1737.5" y2="1985.6" stroke="#1c1c1c" stroke-width="4.2" stroke-linecap="butt"/>
<line x1="1729.3" y1="1891.2" x2="1748.6" y2="1891.2" stroke="#1c1c1c" stroke-width="4.2" stroke-linecap="butt"/>
<line x1="1729.3" y1="1796.8" x2="1737.5" y2="1796.8" stroke="#1c1c1c" stroke-width="4.2" stroke-linecap="butt"/>
<line x1="1729.3" y1="1702.5" x2="1748.6" y2="1702.5" stroke="#1c1c1c" stroke-width="4.2" stroke-linecap="butt"/>
<line x1="1729.3" y1="1608.1" x2="1737.5" y2="1608.1" stroke="#1c1c1c" stroke-width="4.2" stroke-linecap="butt"/>
<line x1="1729.3" y1="1517.4" x2="1748.6" y2="1517.4" stroke="#1c1c1c" stroke-width="4.2" stroke-linecap="butt"/>
<line x1="298.1" y1="2689.3" x2="298.1" y2="2701.5" stroke="#1c1c1c" stroke-width="4.2" stroke-linecap="butt"/>
<line x1="393.5" y1="2689.3" x2="393.5" y2="2712.5" stroke="#1c1c1c" stroke-width="4.2" stroke-linecap="butt"/>
<line x1="488.9" y1="2689.3" x2="488.9" y2="2701.5" stroke="#1c1c1c" stroke-width="4.2" stroke-linecap="butt"/>
<line x1="584.2" y1="2689.3" x2="584.2" y2="2712.5" stroke="#1c1c1c" stroke-width="4.2" stroke-linecap="butt"/>
<line x1="679.6" y1="2689.3" x2="679.6" y2="2701.5" stroke="#1c1c1c" stroke-width="4.2" stroke-linecap="butt"/>
<line x1="775.0" y1="2689.3" x2="775.0" y2="2712.5" stroke="#1c1c1c" stroke-width="4.2" stroke-linecap="butt"/>
<line x1="870.4" y1="2689.3" x2="870.4" y2="2701.5" stroke="#1c1c1c" stroke-width="4.2" stroke-linecap="butt"/>
<line x1="965.8" y1="2689.3" x2="965.8" y2="2712.5" stroke="#1c1c1c" stroke-width="4.2" stroke-linecap="butt"/>
<line x1="1061.1" y1="2689.3" x2="1061.1" y2="2701.5" stroke="#1c1c1c" stroke-width="4.2" stroke-linecap="butt"/>
<line x1="1156.5" y1="2689.3" x2="1156.5" y2="2712.5" stroke="#1c1c1c" stroke-width="4.2" stroke-linecap="butt"/>
<line x1="1251.9" y1="2689.3" x2="1251.9" y2="2701.5" stroke="#1c1c1c" stroke-width="4.2" stroke-linecap="butt"/>
<line x1="1347.2" y1="2689.3" x2="1347.2" y2="2712.5" stroke="#1c1c1c" stroke-width="4.2" stroke-linecap="butt"/>
<line x1="1442.6" y1="2689.3" x2="1442.6" y2="2701.5" stroke="#1c1c1c" stroke-width="4.2" stroke-linecap="butt"/>
<line x1="1538.0" y1="2689.3" x2="1538.0" y2="2712.5" stroke="#1c1c1c" stroke-width="4.2" stroke-linecap="butt"/>
<line x1="1633.4" y1="2689.3" x2="1633.4" y2="2701.5" stroke="#1c1c1c" stroke-width="4.2" stroke-linecap="butt"/>
<line x1="1728.8" y1="2689.3" x2="1728.8" y2="2712.5" stroke="#1c1c1c" stroke-width="4.2" stroke-linecap="butt"/>
<line x1="1201.6" y1="114.7" x2="1357.4" y2="114.7" stroke="#000" stroke-width="8.0" stroke-linecap="butt"/>
<line x1="1201.6" y1="196.0" x2="1357.4" y2="196.0" stroke="#ff0000" stroke-width="8.0" stroke-linecap="butt"/>
<line x1="1201.6" y1="278.9" x2="1357.4" y2="278.9" stroke="#0000ff" stroke-width="8.0" stroke-linecap="butt"/>
<line x1="837.0" y1="1579.3" x2="984.3" y2="1579.3" stroke="#000" stroke-width="8.0" stroke-linecap="butt"/>
<line x1="837.0" y1="1657.0" x2="984.3" y2="1657.0" stroke="#ff0000" stroke-width="8.0" stroke-linecap="butt"/>
<line x1="837.0" y1="1734.8" x2="984.3" y2="1734.8" stroke="#0000ff" stroke-width="8.0" stroke-linecap="butt"/>
<line x1="837.0" y1="1810.6" x2="984.3" y2="1810.6" stroke="#00ff00" stroke-width="8.0" stroke-linecap="butt"/>
</g>
<g transform="translate(237.5 1230.6) scale(1.08 1)">
<text x="0.0" y="0.0" font-size="55" font-family="'Liberation Sans', Arial, sans-serif" fill="#161616" text-anchor="end" textLength="28.3" lengthAdjust="spacing" stroke="#161616" stroke-width="1.5">0</text>
</g>
<g transform="translate(237.5 1115.7) scale(1.08 1)">
<text x="0.0" y="0.0" font-size="55" font-family="'Liberation Sans', Arial, sans-serif" fill="#161616" text-anchor="end" textLength="60.8" lengthAdjust="spacing" stroke="#161616" stroke-width="1.5">10</text>
</g>
<g transform="translate(237.5 1003.6) scale(1.08 1)">
<text x="0.0" y="0.0" font-size="55" font-family="'Liberation Sans', Arial, sans-serif" fill="#161616" text-anchor="end" textLength="60.8" lengthAdjust="spacing" stroke="#161616" stroke-width="1.5">20</text>
</g>
<g transform="translate(237.5 891.5) scale(1.08 1)">
<text x="0.0" y="0.0" font-size="55" font-family="'Liberation Sans', Arial, sans-serif" fill="#161616" text-anchor="end" textLength="60.8" lengthAdjust="spacing" stroke="#161616" stroke-width="1.5">30</text>
</g>
<g transform="translate(237.5 779.4) scale(1.08 1)">
<text x="0.0" y="0.0" font-size="55" font-family="'Liberation Sans', Arial, sans-serif" fill="#161616" text-anchor="end" textLength="60.8" lengthAdjust="spacing" stroke="#161616" stroke-width="1.5">40</text>
</g>
<g transform="translate(237.5 667.3) scale(1.08 1)">
<text x="0.0" y="0.0" font-size="55" font-family="'Liberation Sans', Arial, sans-serif" fill="#161616" text-anchor="end" textLength="60.8" lengthAdjust="spacing" stroke="#161616" stroke-width="1.5">50</text>
</g>
<g transform="translate(237.5 555.2) scale(1.08 1)">
<text x="0.0" y="0.0" font-size="55" font-family="'Liberation Sans', Arial, sans-serif" fill="#161616" text-anchor="end" textLength="60.8" lengthAdjust="spacing" stroke="#161616" stroke-width="1.5">60</text>
</g>
<g transform="translate(237.5 443.1) scale(1.08 1)">
<text x="0.0" y="0.0" font-size="55" font-family="'Liberation Sans', Arial, sans-serif" fill="#161616" text-anchor="end" textLength="60.8" lengthAdjust="spacing" stroke="#161616" stroke-width="1.5">70</text>
</g>
<g transform="translate(237.5 331.0) scale(1.08 1)">
<text x="0.0" y="0.0" font-size="55" font-family="'Liberation Sans', Arial, sans-serif" fill="#161616" text-anchor="end" textLength="60.8" lengthAdjust="spacing" stroke="#161616" stroke-width="1.5">80</text>
</g>
<g transform="translate(237.5 218.9) scale(1.08 1)">
<text x="0.0" y="0.0" font-size="55" font-family="'Liberation Sans', Arial, sans-serif" fill="#161616" text-anchor="end" textLength="60.8" lengthAdjust="spacing" stroke="#161616" stroke-width="1.5">90</text>
</g>
<g transform="translate(237.5 106.8) scale(1.08 1)">
<text x="0.0" y="0.0" font-size="55" font-family="'Liberation Sans', Arial, sans-serif" fill="#161616" text-anchor="end" textLength="93.3" lengthAdjust="spacing" stroke="#161616" stroke-width="1.5">100</text>
</g>
<g transform="translate(1761.5 1200.8) scale(1.08 1)">
<text x="0.0" y="0.0" font-size="55" font-family="'Liberation Sans', Arial, sans-serif" fill="#161616" text-anchor="start" textLength="79.1" lengthAdjust="spacing" stroke="#161616" stroke-width="1.5">0.0</text>
</g>
<g transform="translate(1761.5 1086.7) scale(1.08 1)">
<text x="0.0" y="0.0" font-size="55" font-family="'Liberation Sans', Arial, sans-serif" fill="#161616" text-anchor="start" textLength="79.1" lengthAdjust="spacing" stroke="#161616" stroke-width="1.5">0.2</text>
</g>
<g transform="translate(1761.5 972.6) scale(1.08 1)">
<text x="0.0" y="0.0" font-size="55" font-family="'Liberation Sans', Arial, sans-serif" fill="#161616" text-anchor="start" textLength="79.1" lengthAdjust="spacing" stroke="#161616" stroke-width="1.5">0.4</text>
</g>
<g transform="translate(1761.5 858.5) scale(1.08 1)">
<text x="0.0" y="0.0" font-size="55" font-family="'Liberation Sans', Arial, sans-serif" fill="#161616" text-anchor="start" textLength="79.1" lengthAdjust="spacing" stroke="#161616" stroke-width="1.5">0.6</text>
</g>
<g transform="translate(1761.5 744.4) scale(1.08 1)">
<text x="0.0" y="0.0" font-size="55" font-family="'Liberation Sans', Arial, sans-serif" fill="#161616" text-anchor="start" textLength="79.1" lengthAdjust="spacing" stroke="#161616" stroke-width="1.5">0.8</text>
</g>
<g transform="translate(1761.5 630.3) scale(1.08 1)">
<text x="0.0" y="0.0" font-size="55" font-family="'Liberation Sans', Arial, sans-serif" fill="#161616" text-anchor="start" textLength="79.1" lengthAdjust="spacing" stroke="#161616" stroke-width="1.5">1.0</text>
</g>
<g transform="translate(1761.5 516.2) scale(1.08 1)">
<text x="0.0" y="0.0" font-size="55" font-family="'Liberation Sans', Arial, sans-serif" fill="#161616" text-anchor="start" textLength="79.1" lengthAdjust="spacing" stroke="#161616" stroke-width="1.5">1.2</text>
</g>
<g transform="translate(1761.5 402.1) scale(1.08 1)">
<text x="0.0" y="0.0" font-size="55" font-family="'Liberation Sans', Arial, sans-serif" fill="#161616" text-anchor="start" textLength="79.1" lengthAdjust="spacing" stroke="#161616" stroke-width="1.5">1.4</text>
</g>
<g transform="translate(1761.5 288.0) scale(1.08 1)">
<text x="0.0" y="0.0" font-size="55" font-family="'Liberation Sans', Arial, sans-serif" fill="#161616" text-anchor="start" textLength="79.1" lengthAdjust="spacing" stroke="#161616" stroke-width="1.5">1.6</text>
</g>
<g transform="translate(1761.5 173.9) scale(1.08 1)">
<text x="0.0" y="0.0" font-size="55" font-family="'Liberation Sans', Arial, sans-serif" fill="#161616" text-anchor="start" textLength="79.1" lengthAdjust="spacing" stroke="#161616" stroke-width="1.5">1.8</text>
</g>
<g transform="translate(1761.5 59.8) scale(1.08 1)">
<text x="0.0" y="0.0" font-size="55" font-family="'Liberation Sans', Arial, sans-serif" fill="#161616" text-anchor="start" textLength="79.1" lengthAdjust="spacing" stroke="#161616" stroke-width="1.5">2.0</text>
</g>
<g transform="translate(405.8 1296.5) scale(1.08 1)">
<text x="0.0" y="0.0" font-size="55" font-family="'Liberation Sans', Arial, sans-serif" fill="#161616" text-anchor="middle" textLength="93.3" lengthAdjust="spacing" stroke="#161616" stroke-width="1.5">100</text>
</g>
<g transform="translate(593.8 1296.5) scale(1.08 1)">
<text x="0.0" y="0.0" font-size="55" font-family="'Liberation Sans', Arial, sans-serif" fill="#161616" text-anchor="middle" textLength="93.3" lengthAdjust="spacing" stroke="#161616" stroke-width="1.5">200</text>
</g>
<g transform="translate(783.2 1296.5) scale(1.08 1)">
<text x="0.0" y="0.0" font-size="55" font-family="'Liberation Sans', Arial, sans-serif" fill="#161616" text-anchor="middle" textLength="93.3" lengthAdjust="spacing" stroke="#161616" stroke-width="1.5">300</text>
</g>
<g transform="translate(971.2 1296.5) scale(1.08 1)">
<text x="0.0" y="0.0" font-size="55" font-family="'Liberation Sans', Arial, sans-serif" fill="#161616" text-anchor="middle" textLength="93.3" lengthAdjust="spacing" stroke="#161616" stroke-width="1.5">400</text>
</g>
<g transform="translate(1158.8 1296.5) scale(1.08 1)">
<text x="0.0" y="0.0" font-size="55" font-family="'Liberation Sans', Arial, sans-serif" fill="#161616" text-anchor="middle" textLength="93.3" lengthAdjust="spacing" stroke="#161616" stroke-width="1.5">500</text>
</g>
<g transform="translate(1347.0 1296.5) scale(1.08 1)">
<text x="0.0" y="0.0" font-size="55" font-family="'Liberation Sans', Arial, sans-serif" fill="#161616" text-anchor="middle" textLength="93.3" lengthAdjust="spacing" stroke="#161616" stroke-width="1.5">600</text>
</g>
<g transform="translate(1535.0 1296.5) scale(1.08 1)">
<text x="0.0" y="0.0" font-size="55" font-family="'Liberation Sans', Arial, sans-serif" fill="#161616" text-anchor="middle" textLength="93.3" lengthAdjust="spacing" stroke="#161616" stroke-width="1.5">700</text>
</g>
<g transform="translate(1723.8 1296.5) scale(1.08 1)">
<text x="0.0" y="0.0" font-size="55" font-family="'Liberation Sans', Arial, sans-serif" fill="#161616" text-anchor="middle" textLength="93.3" lengthAdjust="spacing" stroke="#161616" stroke-width="1.5">800</text>
</g>
<g transform="translate(216.0 2704.6) scale(1.08 1)">
<text x="0.0" y="0.0" font-size="55" font-family="'Liberation Sans', Arial, sans-serif" fill="#161616" text-anchor="end" textLength="28.3" lengthAdjust="spacing" stroke="#161616" stroke-width="1.5">0</text>
</g>
<g transform="translate(216.0 2591.7) scale(1.08 1)">
<text x="0.0" y="0.0" font-size="55" font-family="'Liberation Sans', Arial, sans-serif" fill="#161616" text-anchor="end" textLength="60.8" lengthAdjust="spacing" stroke="#161616" stroke-width="1.5">10</text>
</g>
<g transform="translate(216.0 2478.8) scale(1.08 1)">
<text x="0.0" y="0.0" font-size="55" font-family="'Liberation Sans', Arial, sans-serif" fill="#161616" text-anchor="end" textLength="60.8" lengthAdjust="spacing" stroke="#161616" stroke-width="1.5">20</text>
</g>
<g transform="translate(216.0 2365.9) scale(1.08 1)">
<text x="0.0" y="0.0" font-size="55" font-family="'Liberation Sans', Arial, sans-serif" fill="#161616" text-anchor="end" textLength="60.8" lengthAdjust="spacing" stroke="#161616" stroke-width="1.5">30</text>
</g>
<g transform="translate(216.0 2253.0) scale(1.08 1)">
<text x="0.0" y="0.0" font-size="55" font-family="'Liberation Sans', Arial, sans-serif" fill="#161616" text-anchor="end" textLength="60.8" lengthAdjust="spacing" stroke="#161616" stroke-width="1.5">40</text>
</g>
<g transform="translate(216.0 2140.1) scale(1.08 1)">
<text x="0.0" y="0.0" font-size="55" font-family="'Liberation Sans', Arial, sans-serif" fill="#161616" text-anchor="end" textLength="60.8" lengthAdjust="spacing" stroke="#161616" stroke-width="1.5">50</text>
</g>
<g transform="translate(216.0 2027.2) scale(1.08 1)">
<text x="0.0" y="0.0" font-size="55" font-family="'Liberation Sans', Arial, sans-serif" fill="#161616" text-anchor="end" textLength="60.8" lengthAdjust="spacing" stroke="#161616" stroke-width="1.5">60</text>
</g>
<g transform="translate(216.0 1914.3) scale(1.08 1)">
<text x="0.0" y="0.0" font-size="55" font-family="'Liberation Sans', Arial, sans-serif" fill="#161616" text-anchor="end" textLength="60.8" lengthAdjust="spacing" stroke="#161616" stroke-width="1.5">70</text>
</g>
<g transform="translate(216.0 1801.4) scale(1.08 1)">
<text x="0.0" y="0.0" font-size="55" font-family="'Liberation Sans', Arial, sans-serif" fill="#161616" text-anchor="end" textLength="60.8" lengthAdjust="spacing" stroke="#161616" stroke-width="1.5">80</text>
</g>
<g transform="translate(216.0 1688.5) scale(1.08 1)">
<text x="0.0" y="0.0" font-size="55" font-family="'Liberation Sans', Arial, sans-serif" fill="#161616" text-anchor="end" textLength="60.8" lengthAdjust="spacing" stroke="#161616" stroke-width="1.5">90</text>
</g>
<g transform="translate(216.0 1575.6) scale(1.08 1)">
<text x="0.0" y="0.0" font-size="55" font-family="'Liberation Sans', Arial, sans-serif" fill="#161616" text-anchor="end" textLength="93.3" lengthAdjust="spacing" stroke="#161616" stroke-width="1.5">100</text>
</g>
<g transform="translate(1770.0 2658.0) scale(1.08 1)">
<text x="0.0" y="0.0" font-size="55" font-family="'Liberation Sans', Arial, sans-serif" fill="#161616" text-anchor="start" textLength="79.1" lengthAdjust="spacing" stroke="#161616" stroke-width="1.5">0.0</text>
</g>
<g transform="translate(1770.0 2473.8) scale(1.08 1)">
<text x="0.0" y="0.0" font-size="55" font-family="'Liberation Sans', Arial, sans-serif" fill="#161616" text-anchor="start" textLength="79.1" lengthAdjust="spacing" stroke="#161616" stroke-width="1.5">0.2</text>
</g>
<g transform="translate(1770.0 2285.1) scale(1.08 1)">
<text x="0.0" y="0.0" font-size="55" font-family="'Liberation Sans', Arial, sans-serif" fill="#161616" text-anchor="start" textLength="79.1" lengthAdjust="spacing" stroke="#161616" stroke-width="1.5">0.4</text>
</g>
<g transform="translate(1770.0 2096.4) scale(1.08 1)">
<text x="0.0" y="0.0" font-size="55" font-family="'Liberation Sans', Arial, sans-serif" fill="#161616" text-anchor="start" textLength="79.1" lengthAdjust="spacing" stroke="#161616" stroke-width="1.5">0.6</text>
</g>
<g transform="translate(1770.0 1907.7) scale(1.08 1)">
<text x="0.0" y="0.0" font-size="55" font-family="'Liberation Sans', Arial, sans-serif" fill="#161616" text-anchor="start" textLength="79.1" lengthAdjust="spacing" stroke="#161616" stroke-width="1.5">0.8</text>
</g>
<g transform="translate(1770.0 1719.0) scale(1.08 1)">
<text x="0.0" y="0.0" font-size="55" font-family="'Liberation Sans', Arial, sans-serif" fill="#161616" text-anchor="start" textLength="79.1" lengthAdjust="spacing" stroke="#161616" stroke-width="1.5">1.0</text>
</g>
<g transform="translate(1770.0 1528.0) scale(1.08 1)">
<text x="0.0" y="0.0" font-size="55" font-family="'Liberation Sans', Arial, sans-serif" fill="#161616" text-anchor="start" textLength="79.1" lengthAdjust="spacing" stroke="#161616" stroke-width="1.5">1.2</text>
</g>
<g transform="translate(389.5 2774.0) scale(1.08 1)">
<text x="0.0" y="0.0" font-size="55" font-family="'Liberation Sans', Arial, sans-serif" fill="#161616" text-anchor="middle" textLength="93.3" lengthAdjust="spacing" stroke="#161616" stroke-width="1.5">100</text>
</g>
<g transform="translate(583.2 2774.0) scale(1.08 1)">
<text x="0.0" y="0.0" font-size="55" font-family="'Liberation Sans', Arial, sans-serif" fill="#161616" text-anchor="middle" textLength="93.3" lengthAdjust="spacing" stroke="#161616" stroke-width="1.5">200</text>
</g>
<g transform="translate(771.2 2774.0) scale(1.08 1)">
<text x="0.0" y="0.0" font-size="55" font-family="'Liberation Sans', Arial, sans-serif" fill="#161616" text-anchor="middle" textLength="93.3" lengthAdjust="spacing" stroke="#161616" stroke-width="1.5">300</text>
</g>
<g transform="translate(963.2 2774.0) scale(1.08 1)">
<text x="0.0" y="0.0" font-size="55" font-family="'Liberation Sans', Arial, sans-serif" fill="#161616" text-anchor="middle" textLength="93.3" lengthAdjust="spacing" stroke="#161616" stroke-width="1.5">400</text>
</g>
<g transform="translate(1153.8 2774.0) scale(1.08 1)">
<text x="0.0" y="0.0" font-size="55" font-family="'Liberation Sans', Arial, sans-serif" fill="#161616" text-anchor="middle" textLength="93.3" lengthAdjust="spacing" stroke="#161616" stroke-width="1.5">500</text>
</g>
<g transform="translate(1348.0 2774.0) scale(1.08 1)">
<text x="0.0" y="0.0" font-size="55" font-family="'Liberation Sans', Arial, sans-serif" fill="#161616" text-anchor="middle" textLength="93.3" lengthAdjust="spacing" stroke="#161616" stroke-width="1.5">600</text>
</g>
<g transform="translate(1534.5 2774.0) scale(1.08 1)">
<text x="0.0" y="0.0" font-size="55" font-family="'Liberation Sans', Arial, sans-serif" fill="#161616" text-anchor="middle" textLength="93.3" lengthAdjust="spacing" stroke="#161616" stroke-width="1.5">700</text>
</g>
<g transform="translate(1728.2 2774.0) scale(1.08 1)">
<text x="0.0" y="0.0" font-size="55" font-family="'Liberation Sans', Arial, sans-serif" fill="#161616" text-anchor="middle" textLength="93.3" lengthAdjust="spacing" stroke="#161616" stroke-width="1.5">800</text>
</g>
<text x="1001.8" y="1403.7" font-size="56" font-family="'Liberation Sans', Arial, sans-serif" fill="#161616" text-anchor="middle" textLength="488.0" lengthAdjust="spacing" stroke="#161616" stroke-width="1.5">Temperature (°C)</text>
<text x="994.0" y="2882.6" font-size="56" font-family="'Liberation Sans', Arial, sans-serif" fill="#161616" text-anchor="middle" textLength="490.0" lengthAdjust="spacing" stroke="#161616" stroke-width="1.5">Temperature (°C)</text>
<text x="96.5" y="622.8" font-size="57" font-family="'Liberation Sans', Arial, sans-serif" fill="#161616" text-anchor="middle" textLength="449.0" lengthAdjust="spacing" transform="rotate(-90 96.5 622.8)" stroke="#161616" stroke-width="1.5">Weight loss (%)</text>
<text x="73.7" y="2109.5" font-size="56" font-family="'Liberation Sans', Arial, sans-serif" fill="#161616" text-anchor="middle" textLength="470.0" lengthAdjust="spacing" transform="rotate(-90 73.7 2109.5)" stroke="#161616" stroke-width="1.5">Weight loss (%)</text>
<text x="1914.0" y="614.2" font-size="57" font-family="'Liberation Sans', Arial, sans-serif" fill="#161616" text-anchor="middle" textLength="585.0" lengthAdjust="spacing" transform="rotate(-90 1914.0 614.2)" stroke="#161616" stroke-width="1.5">Deriv. Weight (%/°C)</text>
<text x="1921.4" y="2090.2" font-size="56" font-family="'Liberation Sans', Arial, sans-serif" fill="#161616" text-anchor="middle" textLength="571.0" lengthAdjust="spacing" transform="rotate(-90 1921.4 2090.2)" stroke="#161616" stroke-width="1.5">Deriv. Weight (%/°C)</text>
<text x="1368.0" y="133.0" font-size="62" font-family="'Liberation Sans', Arial, sans-serif" fill="#161616" text-anchor="start" textLength="92.0" lengthAdjust="spacing" stroke="#161616" stroke-width="1.5">CT</text>
<text x="1368.0" y="214.3" font-size="62" font-family="'Liberation Sans', Arial, sans-serif" fill="#161616" text-anchor="start" textLength="236.0" lengthAdjust="spacing" stroke="#161616" stroke-width="1.5">CT/PAA</text>
<text x="1368.0" y="297.2" font-size="62" font-family="'Liberation Sans', Arial, sans-serif" fill="#161616" text-anchor="start" textLength="305.0" lengthAdjust="spacing" stroke="#161616" stroke-width="1.5">CT-g-PAA</text>
<text x="994.0" y="1598.5" font-size="56" font-family="'Liberation Sans', Arial, sans-serif" fill="#161616" text-anchor="start" textLength="285.0" lengthAdjust="spacing" stroke="#161616" stroke-width="1.5">CT-g-PAA</text>
<text x="994.0" y="1675.6" font-size="56" font-family="'Liberation Sans', Arial, sans-serif" fill="#161616" text-anchor="start" textLength="689.0" lengthAdjust="spacing" stroke="#161616" stroke-width="1.5">CT-g-PAA/O-ECNFs-0.5</text>
<text x="994.0" y="1752.7" font-size="56" font-family="'Liberation Sans', Arial, sans-serif" fill="#161616" text-anchor="start" textLength="689.0" lengthAdjust="spacing" stroke="#161616" stroke-width="1.5">CT-g-PAA/O-ECNFs-1.5</text>
<text x="994.0" y="1829.8" font-size="56" font-family="'Liberation Sans', Arial, sans-serif" fill="#161616" text-anchor="start" textLength="689.0" lengthAdjust="spacing" stroke="#161616" stroke-width="1.5">CT-g-PAA/O-ECNFs-2.0</text>
<text x="309.0" y="248.5" font-size="104" font-family="'Liberation Serif', 'Times New Roman', serif" fill="#161616" text-anchor="start" stroke="#161616" stroke-width="1.0">(a)</text>
<text x="301.0" y="1705.0" font-size="104" font-family="'Liberation Serif', 'Times New Roman', serif" fill="#161616" text-anchor="start" stroke="#161616" stroke-width="1.0">(b)</text>
</svg>
</body></html>
